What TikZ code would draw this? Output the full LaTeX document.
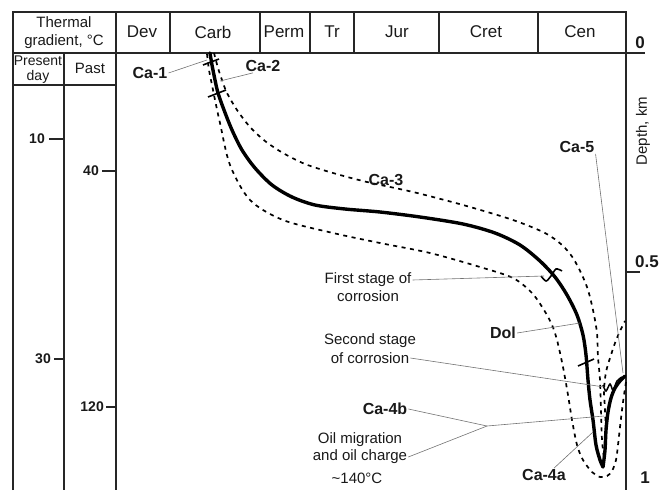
\documentclass[tikz,border=0pt]{standalone}
\usepackage{fontspec}
\setmainfont{Liberation Sans}
\begin{document}
\begin{tikzpicture}[x=1pt,y=-1pt,
  frame/.style={line width=1.5pt, draw=black!85},
  maincurve/.style={line width=3.4pt, line cap=round, line join=round},
  envelope/.style={line width=1.7pt, dash pattern=on 4pt off 4.5pt},
  leader/.style={draw=black!55, line width=0.6pt},
  marker/.style={line width=1.6pt},
  hdr/.style={font=\fontsize{17}{19}\selectfont, inner sep=0pt, text=black!90},
  lhdr/.style={font=\fontsize{15}{18}\selectfont, inner sep=0pt, align=center, text=black!90},
  lbl/.style={font=\fontsize{16}{18}\selectfont\bfseries, inner sep=1pt, text=black!90},
  ann/.style={font=\fontsize{15}{17}\selectfont, inner sep=1pt, text=black!90},
  ticklbl/.style={font=\fontsize{14}{16}\selectfont\bfseries, inner sep=0pt, anchor=east, text=black!90},
  axlbl/.style={font=\fontsize{17}{19}\selectfont\bfseries, inner sep=0pt, text=black!90}
]
\useasboundingbox (0,0) rectangle (660,490);

% ---- frame ----
\draw[frame] (13,490) -- (13,12) -- (626,12) -- (626,490);
\draw[frame] (13,53) -- (645,53);
\draw[frame] (13,85) -- (116,85);
\draw[frame] (64,53) -- (64,490);
\draw[frame] (116,12) -- (116,490);
\foreach \x in {170,260,310,354,439,538} \draw[frame] (\x,12) -- (\x,53);
\draw[frame] (626,272) -- (640,272);
% left ticks
\draw[frame] (49,139) -- (64,139);
\draw[frame] (102,171) -- (116,171);
\draw[frame] (54,359) -- (64,359);
\draw[frame] (106,407) -- (116,407);

% ---- header texts ----
\node[lhdr] (tg) at (64,33) {Thermal\\gradient, °C};
\node[lhdr, font=\fontsize{14}{15}\selectfont] (pd) at (38,70) {Present\\day};
\node[lhdr] (past) at (90,68) {Past};
\node[hdr] (dev) at (142,32) {Dev};
\node[hdr] (carb) at (213,32) {Carb};
\node[hdr] (perm) at (284,32) {Perm};
\node[hdr] (tr) at (332,32) {Tr};
\node[hdr] (jur) at (397,32) {Jur};
\node[hdr] (cret) at (486,32) {Cret};
\node[hdr] (cen) at (580,32) {Cen};

% tick labels
\node[ticklbl] (t10) at (45,139) {10};
\node[ticklbl] (t40) at (99,171) {40};
\node[ticklbl] (t30) at (51,359) {30};
\node[ticklbl] (t120) at (104,407) {120};

% right axis
\node[axlbl] (d0) at (640,43) {0};
\node[axlbl] (d05) at (647,262) {0.5};
\node[axlbl] (d1) at (645,478) {1};
\node[font=\fontsize{15}{17}\selectfont, rotate=90, inner sep=0pt, text=black!90] (depth) at (643,131) {Depth, km};

% ---- envelopes (dashed) ----
\draw[envelope] plot[smooth] coordinates {
 (214,53) (218,68) (222,80) (227,93) (237,110) (250,127) (265,141) (283,153)
 (305,164) (333,173) (367,182) (413,192) (463,205) (513,220) (545,233) (562,245)
 (573,258) (582,275) (588,290) (593,310) (597,333) (598,357) (600,380) (601,410)
 (602,440) (604,458)}
 -- plot[smooth] coordinates {(604,458) (606,440) (605,410) (604,390) (606,372) (610,358)
 (615,343) (620,331) (625,321)};

\draw[envelope] plot[smooth] coordinates {
 (207,54) (209,70) (212,85) (215,100) (220,123) (230,165) (250,200) (283,220)
 (333,233) (380,243) (430,253) (480,267) (513,278) (532,293) (544,310) (552,325)
 (557,340) (563,367) (568,395) (572,420) (577,445) (583,460) (592,472) (600,477)
 (607,476) (612,471) (616,460) (618,445) (620,427) (622,410) (624,395) (626,382)};

% ---- main curve ----
\draw[maincurve] plot[smooth] coordinates {
 (210,53) (212,65) (215,80) (218,93) (224,110) (232,130) (242,150) (255,168)
 (272,185) (292,197) (315,205) (345,209) (380,212) (420,217) (463,224) (495,233)
 (520,245) (540,261) (555,277) (567,295) (577,315) (583,335) (586,355) (588,380)
 (590,400) (593,420) (596,445) (600,460) (603,467)}
 -- plot[smooth] coordinates {(603,467) (605,450) (606,430) (608,412) (611,398)
 (615,388) (620,381) (625,376)};

% cross ticks on the curve
\draw[marker] (203,65) -- (219,59);
\draw[marker] (208,97) -- (226,90);
\draw[marker] (578,366) -- (594,359);
% corrosion marks
\draw[marker] plot[smooth] coordinates {(541,276) (546,281) (551,276) (556,269) (562,271)};
\draw[line width=1.5pt] plot[smooth] coordinates {(603,385) (606,391) (610,384) (613,390) (617,381) (622,377)};

% ---- labels ----
\node[lbl] (ca1) at (150,73) {Ca-1};
\node[lbl] (ca2) at (263,66) {Ca-2};
\node[lbl] (ca3) at (386,180) {Ca-3};
\node[lbl] (ca5) at (577,147) {Ca-5};
\node[lbl] (dol) at (503,333) {Dol};
\node[lbl] (ca4b) at (385,409) {Ca-4b};
\node[lbl] (ca4a) at (544,475) {Ca-4a};
\node[ann] (fs1) at (368,280) {First stage of};
\node[ann] (fs2) at (368,296) {corrosion};
\node[ann] (ss1) at (370,341) {Second stage};
\node[ann] (ss2) at (370,358) {of corrosion};
\node[ann] (om1) at (360,440) {Oil migration};
\node[ann] (om2) at (360,457) {and oil charge};
\node[ann] (t140) at (357,478) {\textasciitilde140°C};

% leader targets
\coordinate (ca1t) at (207,60);
\coordinate (ca2t) at (220,81);
\coordinate (ca5t) at (623,373);
\coordinate (fst) at (544,276);
\coordinate (dolt) at (580,323);
\coordinate (sst) at (604,387);
\coordinate (jn) at (487,426);
\coordinate (ca4bt) at (604,416);
\coordinate (ca4at) at (593,432);

\draw[leader] (ca1.east) -- (ca1t);
\draw[leader] ([xshift=-10pt]ca2.south) -- (ca2t);
\draw[leader] (ca5.south east) -- (ca5t);
\draw[leader] (fs1.east) -- (fst);
\draw[leader] (dol.east) -- (dolt);
\draw[leader] (ss2.east) -- (sst);
\draw[leader] (ca4b.east) -- (jn) -- (ca4bt);
\draw[leader] (om2.east) -- (jn);
\draw[leader] ([xshift=10pt]ca4a.north) -- (ca4at);
\end{tikzpicture}
\end{document}
